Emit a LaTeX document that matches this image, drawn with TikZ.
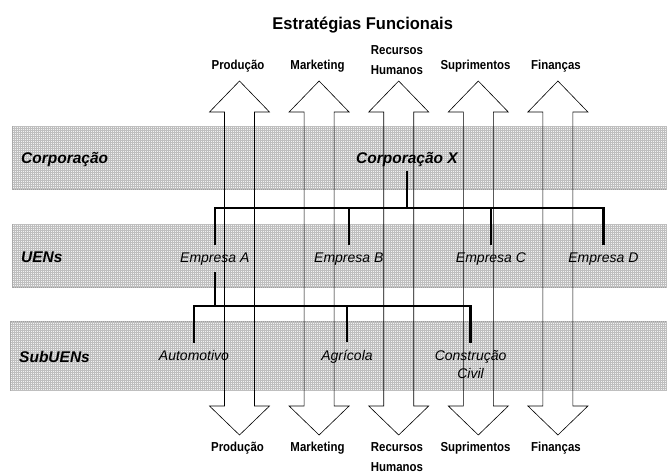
\documentclass[tikz,border=0pt]{standalone}
\usepackage{fontspec}
\setmainfont{Liberation Sans}
\newfontfamily\narrowfont{Liberation Sans}[FakeStretch=0.88]
\newfontfamily\titlefont{Liberation Sans}[FakeStretch=0.97]
\usetikzlibrary{patterns.meta}

\tikzset{
  band/.style={draw=gray!75, line width=1pt, fill=gray!10,
    postaction={pattern={Hatch[angle=0,distance=2pt,line width=0.35pt]},
                pattern color=gray!50}},
  farrow/.style={draw=black, line width=0.6pt, line join=miter},
  tree/.style={draw=black, line width=2.3pt},
  flabel/.style={font=\narrowfont\bfseries\fontsize{13}{19.5}\selectfont,
    inner sep=0pt, align=center},
  bandlabel/.style={font=\bfseries\itshape\fontsize{15.5}{18}\selectfont,
    inner sep=0pt, anchor=base west},
  unit/.style={font=\bfseries\itshape\fontsize{15.5}{18}\selectfont,
    inner xsep=2pt, inner ysep=4pt, anchor=base},
  item/.style={font=\itshape\fontsize{14}{18}\selectfont,
    inner xsep=2pt, inner ysep=7pt, align=center},
}

\begin{document}
\begin{tikzpicture}[x=1pt,y=-1pt]
\useasboundingbox (0,0) rectangle (667,474);

% organisational levels
\path[band] (12.5,126) rectangle (672,189.5);
\path[band] (12.5,224) rectangle (672,287);
\path[band] (10.5,321) rectangle (672,390);

% functional strategy double arrows
\foreach \cx in {239.5,319.1,398.7,478.3,557.9}{
  \draw[farrow] ({\cx-15},112) -- ({\cx-30},112) -- (\cx,81) -- ({\cx+30},112)
    -- ({\cx+15},112) -- ({\cx+15},406) -- ({\cx+30},406) -- (\cx,435)
    -- ({\cx-30},406) -- ({\cx-15},406) -- cycle;
}

% title
\node[font=\titlefont\bfseries\fontsize{17}{20}\selectfont, inner sep=0pt, anchor=base]
  (title) at (362.7,29) {Estratégias Funcionais};

% functional labels, top
\node[flabel, anchor=base] (prodT) at (238,69.5) {Produção};
\node[flabel, anchor=base] (markT) at (317.5,69.5) {Marketing};
\node[flabel, anchor=north] (rhT) at (397,45.5) {Recursos\\Humanos};
\node[flabel, anchor=base] (supT) at (475.5,69.5) {Suprimentos};
\node[flabel, anchor=base] (finT) at (556,69.5) {Finanças};

% functional labels, bottom
\node[flabel, anchor=base] (prodB) at (237.5,451) {Produção};
\node[flabel, anchor=base] (markB) at (317.5,451) {Marketing};
\node[flabel, anchor=north] (rhB) at (397,442.5) {Recursos\\Humanos};
\node[flabel, anchor=base] (supB) at (475.5,451) {Suprimentos};
\node[flabel, anchor=base] (finB) at (556,451) {Finanças};

% level names
\node[bandlabel] (lvlCorp) at (21,163.5) {Corporação};
\node[bandlabel] (lvlUEN) at (21,262.5) {UENs};
\node[bandlabel] (lvlSub) at (19,362.5) {SubUENs};

% units
\node[unit] (corpX) at (407,163.5) {Corporação X};
\node[item, anchor=base] (empA) at (214.8,262) {Empresa A};
\node[item, anchor=base] (empB) at (348.8,262) {Empresa B};
\node[item, anchor=base] (empC) at (491,262) {Empresa C};
\node[item, anchor=base] (empD) at (603.4,262) {Empresa D};
\node[item, anchor=base] (autom) at (194,360) {Automotivo};
\node[item, anchor=base] (agric) at (347,360) {Agrícola};
\node[item, anchor=north] (constr) at (470.6,343) {Construção\\Civil};

% hierarchy: corporation to business units
\coordinate (hub1) at (405,208);
\draw[tree] (corpX.south) -- (corpX.south |- hub1);
\draw[tree] (empA.north) |- (empD.north |- hub1) -- (empD.north);
\draw[tree] (empB.north) -- (empB.north |- hub1);
\draw[tree] (empC.north) -- (empC.north |- hub1);

% hierarchy: Empresa A to its sub-units
\coordinate (hub2) at (214,306);
\draw[tree] (empA.south) -- (empA.south |- hub2);
\draw[tree] (autom.north) |- (constr.north |- hub2) -- (constr.north);
\draw[tree] (agric.north) -- (agric.north |- hub2);
\end{tikzpicture}
\end{document}
